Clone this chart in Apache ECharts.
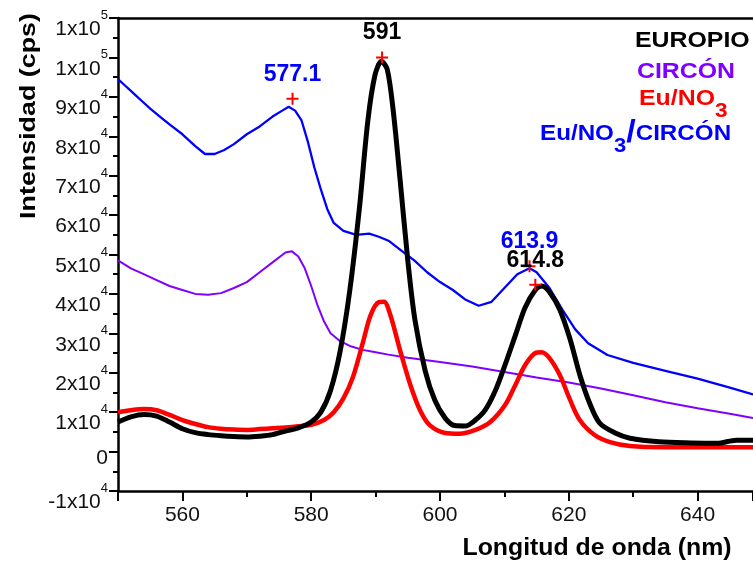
<!DOCTYPE html>
<html><head><meta charset="utf-8">
<script src="https://cdn.jsdelivr.net/npm/echarts@6/dist/echarts.min.js"></script>
<style>html,body{margin:0;padding:0;background:#fff}#c{width:753px;height:561px}</style>
</head><body><div id="c"></div>
<script>
const FONT = '"Liberation Sans", Arial, Helvetica, sans-serif';

// ---- data (wavelength nm, intensity cps) ----
const nmEuNO3Circon = [550,551,552,553,554,555,556.5,558,560,562,563.5,565,566.5,568,570,572,574,575.5,576.5,577.5,578.5,579.5,580.5,581.5,582.5,583.5,585,587,589,590.5,592,594,596,598,600,602,604,606,608,610,612,613.9,615,617,619,621,623,626,630,635,640,645,648.6];
const valEuNO3Circon = [94500,93000,91500,90000,88500,87000,85000,83000,80500,77500,75500,75500,76500,78000,80500,82500,85000,86500,87500,86500,84000,78500,72000,66500,61500,58000,56000,55000,55300,54500,53500,51000,48500,45500,43000,41000,38500,37000,38000,41500,45000,46500,45500,41500,36000,31000,27500,24500,22500,20500,18500,16200,14500];

const nmCircon = [550,552,554,556,558,560,562,564,566,568,570,572,574,576,577,578,579,580,581,582,583,584.5,586,588,590,592,595,600,605,610,615,620,625,630,635,640,645,648.6];
const valCircon = [48500,46500,45000,43500,42000,41000,40000,39800,40200,41500,43000,45500,48000,50500,50800,49500,46500,42000,37000,33000,30000,28000,26800,25800,25200,24600,23800,22700,21600,20200,18800,17500,16000,14300,12500,11000,9600,8500];

const nmEuNO3 = [550,552,554,556,558,560,562,564,566,568,570,572,574,576,578,580,582,583.5,585,586.5,588,589.2,590.5,591.3,592.3,593.8,595.4,596.9,598.4,600.8,603,605.5,607.8,610.1,611.7,613.2,614.8,615.8,617,618.6,620.2,621.7,624,626.4,629.5,635,645,648.6];
const valEuNO3 = [10000,10500,10800,10500,9300,8000,7000,6200,5800,5600,5500,5700,5900,6100,6400,6800,8000,10000,13500,19000,27500,34500,37900,38000,34600,25700,16900,10500,6700,4700,4500,5500,7500,11800,16900,21900,25000,25200,23700,19400,13100,8000,4200,2400,1400,1100,1100,1100];

const nmEuropio = [550,552,554,556,558,560,562,564,566,568,570,572,574,576,578,580,581.5,583,584.5,586,587.5,588.8,589.9,590.9,591.8,592.7,593.8,595,596.1,597.7,599.2,600.8,602.3,604,605.5,607,608.6,610.1,611.7,613.2,614.8,615.8,617,618.6,620.2,621.7,623.3,624.8,627.2,629.5,634,639,643,646,648.6];
const valEuropio = [7500,8800,9400,9000,7500,5800,4800,4300,4000,3800,3700,3900,4300,5200,6000,7500,10000,15500,25500,41000,62000,84000,95500,99000,97000,87000,69000,48500,33500,20500,13000,8500,6600,6500,8000,10500,15500,22000,29500,36500,41000,42000,40500,36000,28500,19500,12000,7200,4700,3400,2500,2200,2100,2900,2900];

const peakNm = [577.1, 591, 613.9, 614.8];
const peakVal = [89500, 100000, 47000, 42300];
const peakText = ['577.1', '591', '613.9', '614.8'];

const seriesNames = ['EUROPIO', 'CIRCÓN', 'Eu/NO3', 'Eu/NO3/CIRCÓN'];
const xTickLabels = [560, 580, 600, 620, 640];

// ---- styles ----
const C_BLACK = '#000000', C_PURPLE = '#8000ff', C_RED = '#ff0000', C_BLUE = '#0000ff';
const peakColors = [C_BLUE, C_BLACK, C_BLUE, C_BLACK];

const zip = (a, b) => a.map((v, i) => [v, b[i]]);

const chart = echarts.init(document.getElementById('c'), null, {renderer: 'canvas'});

const yFmt = v => {
  if (v === 0) return '{z|0}';
  const e = Math.floor(Math.log10(Math.abs(v)) + 1e-9);
  const m = Math.round(v / Math.pow(10, e));
  return '{a|' + m + 'x10}{s|' + e + '}';
};

const option = {
  animation: false,
  backgroundColor: '#fff',
  grid: {left: 118, right: 0, top: 18, bottom: 70, containLabel: false, outerBoundsMode: 'none'},
  xAxis: [{
    type: 'value', min: 550, max: 648.6, splitNumber: 5,
    axisLine: {show: true, onZero: false, lineStyle: {color: '#000', width: 2.5}},
    axisTick: {show: true, inside: false, length: 10, lineStyle: {color: '#000', width: 2}},
    minorTick: {show: true, splitNumber: 2, length: 6, lineStyle: {color: '#000', width: 2}},
    splitLine: {show: false}, minorSplitLine: {show: false},
    axisLabel: {
      show: true, margin: 14, fontFamily: FONT, fontSize: 21, color: '#111',
      showMinLabel: false, showMaxLabel: false,
      formatter: v => (xTickLabels.indexOf(Math.round(v)) >= 0 && Math.abs(v - Math.round(v)) < 1e-6) ? String(Math.round(v)) : ''
    }
  }, {
    type: 'value', position: 'top', min: 550, max: 648.6,
    axisLine: {show: true, onZero: false, lineStyle: {color: '#000', width: 2.5}},
    axisTick: {show: false}, axisLabel: {show: false}, splitLine: {show: false}
  }],
  yAxis: {
    type: 'value', min: -10000, max: 110000, interval: 10000,
    axisLine: {show: true, onZero: false, lineStyle: {color: '#000', width: 2.5}},
    axisTick: {show: true, inside: false, length: 9, lineStyle: {color: '#000', width: 2}},
    minorTick: {show: true, splitNumber: 2, length: 5, lineStyle: {color: '#000', width: 2}},
    splitLine: {show: false}, minorSplitLine: {show: false},
    axisLabel: {
      margin: 10, color: '#111', fontFamily: FONT, padding: [13, 0, 0, 0],
      formatter: yFmt,
      rich: {
        a: {fontFamily: FONT, fontSize: 21, lineHeight: 31, verticalAlign: 'bottom', color: '#111'},
        s: {fontFamily: FONT, fontSize: 13, lineHeight: 13, verticalAlign: 'top', color: '#111'},
        z: {fontFamily: FONT, fontSize: 21, lineHeight: 21, color: '#111'}
      }
    }
  },
  series: [
    {name: seriesNames[3], type: 'line', data: zip(nmEuNO3Circon, valEuNO3Circon), showSymbol: false, symbol: 'none',
     lineStyle: {color: C_BLUE, width: 2.3}, z: 2},
    {name: seriesNames[1], type: 'line', data: zip(nmCircon, valCircon), showSymbol: false, symbol: 'none',
     lineStyle: {color: C_PURPLE, width: 2}, z: 2},
    {name: seriesNames[2], type: 'line', data: zip(nmEuNO3, valEuNO3), showSymbol: false, symbol: 'none', smooth: 0.3,
     lineStyle: {color: C_RED, width: 4.5}, z: 3},
    {name: seriesNames[0], type: 'line', data: zip(nmEuropio, valEuropio), showSymbol: false, symbol: 'none', smooth: 0.3,
     lineStyle: {color: C_BLACK, width: 5}, z: 4},
    {name: 'picos', type: 'scatter', z: 6,
     symbol: 'path://M5,0 L5,10 M0,5 L10,5', symbolSize: 12,
     itemStyle: {color: 'rgba(0,0,0,0)', borderColor: C_RED, borderWidth: 2, opacity: 1},
     data: peakNm.map((x, i) => ({
       value: [x, peakVal[i]],
       label: {show: true, position: 'top', distance: 6, formatter: peakText[i], opacity: 1,
               color: peakColors[i], fontFamily: FONT, fontWeight: 'bold', fontSize: 23}
     }))}
  ],
  graphic: [
    {type: 'text', x: 29, y: 116, rotation: Math.PI / 2, scaleX: 1.22, z: 10,
     style: {text: 'Intensidad (cps)', font: 'bold 22px ' + FONT, fill: '#000', align: 'center', verticalAlign: 'middle', textAlign: 'center', textVerticalAlign: 'middle'}},
    {type: 'text', x: 597, y: 549, scaleX: 1.08, z: 10,
     style: {text: 'Longitud de onda (nm)', font: 'bold 23px ' + FONT, fill: '#000', align: 'center', verticalAlign: 'middle', textAlign: 'center', textVerticalAlign: 'middle'}},
    {type: 'text', x: 635, y: 40.5, scaleX: 1.13, z: 10,
     style: {text: seriesNames[0], font: 'bold 22px ' + FONT, fill: C_BLACK, align: 'left', verticalAlign: 'middle', textAlign: 'left', textVerticalAlign: 'middle'}},
    {type: 'text', x: 637, y: 71.5, scaleX: 1.13, z: 10,
     style: {text: seriesNames[1], font: 'bold 22px ' + FONT, fill: C_PURPLE, align: 'left', verticalAlign: 'middle', textAlign: 'left', textVerticalAlign: 'middle'}},
    {type: 'text', x: 639, y: 75.5, scaleX: 1.13, z: 10,
     style: {text: '{m|Eu/NO}{sub|3}', fill: C_RED, align: 'left', verticalAlign: 'top', textAlign: 'left', textVerticalAlign: 'top',
       rich: {m: {font: 'bold 22px ' + FONT, fill: C_RED, color: C_RED, lineHeight: 22, verticalAlign: 'middle'},
              sub: {font: 'bold 20px ' + FONT, fill: C_RED, color: C_RED, lineHeight: 46, verticalAlign: 'bottom'}}}},
    {type: 'text', x: 540, y: 110.5, scaleX: 1.1, z: 10,
     style: {text: '{m|Eu/NO}{sub|3}{sl|/}{m|CIRCÓN}', fill: C_BLUE, align: 'left', verticalAlign: 'top', textAlign: 'left', textVerticalAlign: 'top',
       rich: {m: {font: 'bold 22px ' + FONT, fill: C_BLUE, color: C_BLUE, lineHeight: 22, verticalAlign: 'middle'},
              sub: {font: 'bold 20px ' + FONT, fill: C_BLUE, color: C_BLUE, lineHeight: 46, verticalAlign: 'bottom'},
              sl: {font: 'bold 31px ' + FONT, fill: C_BLUE, color: C_BLUE, lineHeight: 31, verticalAlign: 'middle'}}}}
  ]
};
chart.setOption(option);
</script>
</body></html>
